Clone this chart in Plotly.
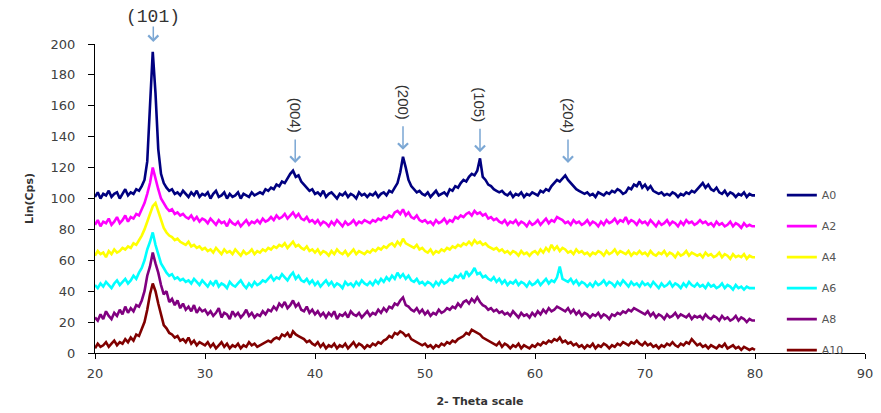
import plotly.graph_objects as go

# ---- data ----
THETA_START = 20.0
THETA_STEP = 0.25
N_POINTS = 241
theta = [THETA_START + THETA_STEP * i for i in range(N_POINTS)]

A0 = [
    101,104,100,103,102,105,101,103,104,100,103,106,102,104,103,106,105,108,112,124,
    160,195,168,132,116,110,107,105,106,103,104,102,105,103,101,104,102,105,101,103,
    102,104,100,103,105,101,102,104,100,103,101,102,104,100,103,102,101,104,102,103,
    104,103,106,105,107,106,109,108,111,110,113,116,118,114,115,111,109,107,105,106,
    103,104,102,105,101,103,104,102,100,103,102,104,101,103,102,100,104,102,103,101,
    103,102,104,101,103,104,102,105,104,107,110,117,127,120,112,108,106,104,105,103,
    102,104,101,103,105,102,103,104,102,106,105,108,107,110,112,111,114,116,115,118,
    126,114,112,109,108,106,105,104,105,103,102,104,101,103,102,104,101,103,102,104,
    103,102,105,104,106,105,108,110,112,111,113,115,112,110,108,106,105,104,103,104,
    102,103,101,104,103,102,104,103,105,104,106,105,103,104,107,106,109,108,111,107,
    109,106,108,105,104,103,104,102,103,102,104,103,101,103,102,104,103,105,104,106,
    108,110,107,109,106,105,107,104,103,105,102,104,103,101,103,102,104,101,103,102,
    102,
]
A2 = [
    83,86,82,85,84,87,83,85,88,84,86,89,85,88,87,90,89,93,97,103,
    110,120,112,106,100,97,94,92,93,90,91,89,90,88,87,89,86,88,85,87,
    86,84,87,85,83,86,84,85,82,86,84,83,85,82,84,86,83,85,84,86,
    84,87,85,86,88,86,89,87,88,90,87,89,91,88,90,87,86,88,85,86,
    84,86,83,85,84,82,85,83,86,84,82,85,83,84,86,83,85,84,86,85,
    84,86,85,87,86,88,87,89,88,91,92,90,93,89,91,88,87,89,86,85,
    86,84,85,83,86,84,85,87,84,86,85,88,87,89,88,90,91,89,92,90,
    91,89,90,87,88,86,87,85,84,86,83,85,84,86,83,85,84,82,85,83,
    84,86,83,85,87,84,86,85,88,87,86,84,85,83,86,84,85,83,84,86,
    83,85,84,82,85,83,86,84,85,87,84,86,85,88,84,86,85,83,86,84,
    85,83,86,84,82,85,83,84,86,83,85,84,82,85,83,86,84,85,83,84,
    86,84,85,83,84,82,85,83,84,82,83,85,82,84,83,81,84,82,83,82,
    82,
]
A4 = [
    63,66,64,65,62,66,64,67,65,66,68,67,69,68,71,70,73,76,80,85,
    90,95,97,92,86,81,78,76,75,73,74,72,71,70,72,69,70,68,69,67,
    68,66,67,65,68,66,64,67,65,66,64,67,65,63,66,64,65,67,64,66,
    65,67,66,68,67,69,68,70,69,71,68,70,72,69,70,68,67,69,66,67,
    65,67,64,66,65,63,66,64,67,65,64,66,63,65,67,64,66,65,64,66,
    65,67,66,68,67,69,68,70,71,69,72,70,74,71,70,69,68,70,67,68,
    66,65,67,64,66,65,67,66,68,67,69,68,70,69,71,70,72,70,73,71,
    72,70,71,69,68,67,68,66,67,65,66,64,66,65,63,66,64,65,63,65,
    66,64,67,65,68,66,70,67,69,66,68,67,65,66,64,67,65,66,64,65,
    63,65,64,66,65,63,66,64,65,67,64,66,65,64,66,63,65,64,66,64,
    65,63,66,64,63,65,64,66,63,65,64,62,65,63,64,66,63,65,64,63,
    64,62,65,63,64,62,63,65,62,64,63,61,64,62,63,62,64,61,63,62,
    62,
]
A6 = [
    44,42,45,43,46,44,42,45,47,44,46,48,45,47,50,48,52,55,60,67,
    72,78,70,64,58,55,52,50,51,48,49,47,48,46,47,45,48,46,44,47,
    45,43,46,44,47,43,45,44,42,46,44,43,45,47,44,42,45,43,46,44,
    45,47,46,48,50,47,49,48,51,49,47,50,52,48,50,47,46,48,45,47,
    44,46,43,45,47,44,46,43,45,44,42,46,44,45,43,46,44,47,45,44,
    46,44,47,45,48,46,49,47,50,48,52,49,51,48,50,47,46,48,45,46,
    44,46,45,43,46,44,47,45,46,48,47,50,49,51,48,53,50,52,55,51,
    52,49,50,48,47,49,46,48,45,47,44,46,45,47,44,46,45,43,46,44,
    45,47,44,46,48,45,47,46,49,56,48,47,46,48,45,47,44,46,45,43,
    45,43,46,44,45,47,44,46,45,43,46,44,47,45,43,46,44,45,43,46,
    44,45,43,46,44,42,45,43,44,46,43,45,44,42,45,43,46,44,43,45,
    43,44,42,45,43,44,42,43,45,42,44,43,41,44,42,43,41,43,42,42,
    42,
]
A8 = [
    23,21,25,22,27,24,22,26,24,28,25,30,26,29,27,31,30,34,40,50,
    56,65,58,52,44,38,40,33,35,31,34,29,32,28,30,27,31,26,29,27,
    28,25,27,24,26,29,23,26,25,22,27,24,26,23,25,28,24,26,23,25,
    24,27,25,28,27,30,28,32,30,33,29,31,34,30,32,28,27,30,26,28,
    25,27,24,26,23,26,24,27,22,25,24,26,23,27,25,24,26,23,25,27,
    24,26,25,28,26,29,27,30,29,32,31,34,36,31,30,28,27,29,26,28,
    25,27,24,26,25,28,26,27,29,28,30,29,32,30,33,34,32,35,33,36,
    33,31,30,28,29,27,28,26,27,25,26,24,27,25,23,26,24,25,23,26,
    24,27,25,28,26,29,27,28,30,29,28,27,29,26,28,25,27,24,26,25,
    23,25,24,26,23,25,24,22,25,24,26,25,27,26,28,27,29,28,27,26,
    25,27,24,26,23,25,24,22,25,23,24,26,23,25,24,23,25,22,24,23,
    24,22,25,23,22,24,23,21,24,22,23,21,22,24,21,23,22,20,22,21,
    21,
]
A10 = [
    3,6,4,5,7,4,6,8,5,7,6,9,7,10,8,12,11,15,20,28,
    38,45,40,32,24,18,16,13,12,10,11,8,9,7,10,6,8,5,7,6,
    5,7,4,6,3,5,7,4,6,3,5,4,6,3,5,4,7,5,6,4,
    5,6,7,8,7,9,10,9,12,11,13,10,14,12,11,10,9,7,8,6,
    5,7,4,6,3,5,4,6,3,5,4,6,3,5,7,4,6,5,3,5,
    4,6,5,7,6,8,9,11,10,13,12,14,13,11,12,9,8,7,6,5,
    6,4,5,3,5,4,6,5,7,6,8,7,9,10,11,13,12,15,14,13,
    12,10,9,8,7,6,5,7,4,6,5,3,5,4,6,3,5,4,3,5,
    4,6,5,7,6,8,7,9,8,10,7,8,6,7,5,6,4,5,3,5,
    4,6,3,5,4,6,5,3,5,4,6,5,7,6,5,7,6,8,6,5,
    7,5,6,4,5,3,5,4,6,5,7,5,4,6,5,7,6,9,7,5,
    6,4,5,3,5,4,3,5,4,6,3,4,5,3,4,2,4,3,2,3,
    2,
]

series_names = ["A0", "A2", "A4", "A6", "A8", "A10"]
series_values = [A0, A2, A4, A6, A8, A10]
series_colors = ["#000080", "#ff00ff", "#ffff00", "#00ffff", "#800080", "#800000"]

peak_labels = ["(101)", "(004)", "(200)", "(105)", "(204)"]
peak_theta = [25.3, 38.2, 48.0, 55.0, 63.0]
peak_tip = [201.3, 123.0, 131.5, 130.0, 123.0]

# ---- figure ----
fig = go.Figure()
for name, vals, col in zip(series_names, series_values, series_colors):
    fig.add_trace(go.Scatter(
        x=theta, y=vals, mode="lines", name=name,
        line=dict(color=col, width=2.6),
        legendgroup=name,
    ))

Y_MIN, Y_MAX = 0, 200
arrow_col = "#7ba7d4"
for k, (lab, px, tip) in enumerate(zip(peak_labels, peak_theta, peak_tip)):
    length = 17 if k == 0 else 25
    ypaper = (tip - Y_MIN) / (Y_MAX - Y_MIN)
    fig.add_annotation(
        x=px, y=ypaper, xref="x", yref="paper", text="", showarrow=True,
        ax=0, ay=-length, arrowhead=4, arrowsize=1.3, arrowwidth=1.5,
        arrowcolor=arrow_col,
    )
    if k == 0:
        fig.add_annotation(
            x=px, y=ypaper, xref="x", yref="paper", yshift=length + 8,
            xanchor="center", yanchor="middle",
            text=lab, showarrow=False,
            font=dict(family="Liberation Mono", size=18, color="#333333"),
        )
    else:
        fig.add_annotation(
            x=px, y=ypaper, xref="x", yref="paper", yshift=length + 23,
            xanchor="center", yanchor="middle",
            text=lab, showarrow=False, textangle=90,
            font=dict(family="Liberation Sans Narrow, Liberation Sans", size=15, color="#333333"),
        )

fig.update_layout(
    width=881, height=413,
    margin=dict(l=95, r=16, t=44, b=60),
    paper_bgcolor="white", plot_bgcolor="white",
    font=dict(family="DejaVu Sans", size=13, color="#404040"),
    showlegend=True,
    legend=dict(
        x=0.892, y=0.558, xanchor="left", yanchor="top",
        bgcolor="rgba(0,0,0,0)", tracegroupgap=12,
        font=dict(family="DejaVu Sans", size=11, color="#555555"),
        itemwidth=30,
    ),
    xaxis=dict(
        range=[20, 90], tickmode="linear", tick0=20, dtick=10,
        showline=True, linecolor="#000000", linewidth=1,
        ticks="outside", ticklen=5, tickcolor="#000000",
        ticklabelstandoff=3, automargin=False,
        showgrid=False, zeroline=False,
        title=dict(text="<b>2- Theta scale</b>", font=dict(size=11, color="#333333"), standoff=17),
    ),
    yaxis=dict(
        range=[Y_MIN, Y_MAX], tickmode="linear", tick0=0, dtick=20,
        showline=True, linecolor="#000000", linewidth=1,
        ticks="outside", ticklen=6, tickcolor="#000000",
        ticklabelstandoff=10, automargin=False,
        showgrid=False, zeroline=False,
        title=dict(text="<b>Lin(Cps)</b>", font=dict(size=11, color="#333333"), standoff=14),
    ),
)

fig.write_html("out.html")
